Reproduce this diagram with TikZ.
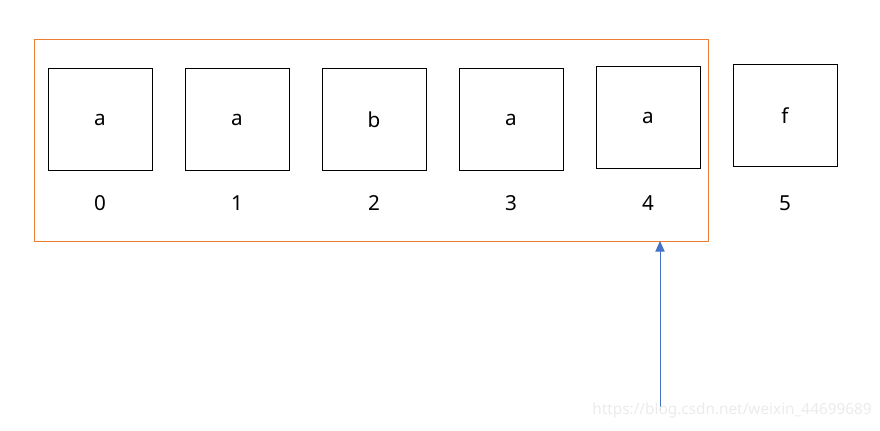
\documentclass[tikz,border=0pt]{standalone}
\usepackage{fontspec}
\setmainfont{Noto Sans}
\usetikzlibrary{arrows.meta,positioning}

\definecolor{frameorange}{RGB}{237,125,49}
\definecolor{arrowblue}{RGB}{68,114,196}

\tikzset{
  cell/.style={draw=black,line width=0.7pt,minimum width=78pt,minimum height=77pt,inner sep=0pt,font=\fontsize{15.5}{18}\selectfont},
  index/.style={inner sep=0pt,font=\fontsize{15.5}{18}\selectfont}
}

\begin{document}
\begin{tikzpicture}[x=0.75pt,y=-0.75pt]

\useasboundingbox (0,0) rectangle (880,431);

\coordinate (F1) at (34,39);
\coordinate (F2) at (708,241);
\coordinate (P) at (660,410);
\coordinate (Q) at (660,241);

\node[cell] (b0) at (100,119.5) {a};
\node[cell] (b1) at (237,119.5) {a};
\node[cell] (b2) at (374,119.5) {b};
\node[cell] (b3) at (511,119.5) {a};
\node[cell] (b4) at (648,117.5) {a};
\node[cell] (b5) at (785,115.5) {f};

\node[index] (l0) at (100,203) {0};
\node[index] (l1) at (237,203) {1};
\node[index] (l2) at (374,203) {2};
\node[index] (l3) at (511,203) {3};
\node[index] (l4) at (648,203) {4};
\node[index] (l5) at (785,203) {5};

\draw [frameorange,line width=0.6pt] (F1) rectangle (F2);

\draw [arrowblue,line width=0.7pt,-{Triangle[width=7pt,length=8pt]}] (P) -- (Q);

\node [text=black!8,font=\fontsize{11.5}{13}\selectfont,inner sep=0pt] (wm) at (732,411) {https://blog.csdn.net/weixin\_44699689};

\end{tikzpicture}
\end{document}
